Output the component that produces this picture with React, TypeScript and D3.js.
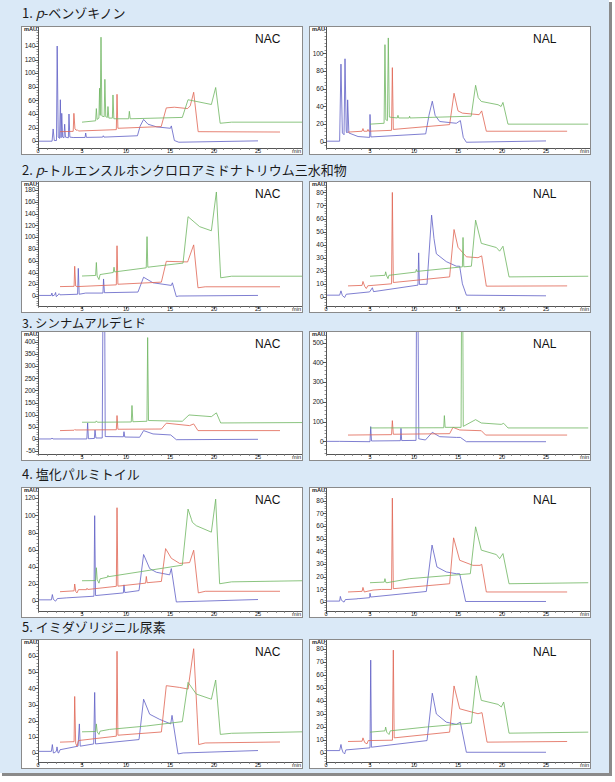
import React from 'react';
import * as d3 from 'd3';

type Pt = [number, number];

// ---------- text ----------
const titleNums = ['1. ', '2. ', '3. ', '4. ', '5. '];
const titleItalic = ['p', 'p', '', '', ''];
const titleNames = [
  '-ベンゾキノン',
  '-トルエンスルホンクロロアミドナトリウム三水和物',
  'シンナムアルデヒド',
  '塩化パルミトイル',
  'イミダゾリジニル尿素',
];
const panelLabels = ['NAC', 'NAL'];

// ---------- axes ----------
const xDomain: [number, number] = [0, 30];
const xTicks = [0, 5, 10, 15, 20, 25];
const yDomains: [number, number][] = [
  [-10, 168], [-7, 130],
  [-17, 194], [-7, 88],
  [-62, 441], [-64, 554],
  [-11.5, 132], [-7, 90],
  [-5.6, 70], [-7, 87],
];
const yTicks: number[][] = [
  [0, 20, 40, 60, 80, 100, 120, 140],
  [0, 20, 40, 60, 80, 100],
  [0, 20, 40, 60, 80, 100, 120, 140, 160, 180],
  [0, 10, 20, 30, 40, 50, 60, 70, 80],
  [-50, 0, 50, 100, 150, 200, 250, 300, 350, 400],
  [0, 100, 200, 300, 400, 500],
  [0, 20, 40, 60, 80, 100, 120],
  [0, 10, 20, 30, 40, 50, 60, 70, 80],
  [0, 10, 20, 30, 40, 50, 60],
  [0, 10, 20, 30, 40, 50, 60, 70, 80],
];
const showZeroX = [true, false, false, true, false, false, false, true, true, true];

// ---------- traces [min, mAU] ----------
// 1. p-benzoquinone NAC
const p1nacB: Pt[] = [[0,0],[1.6,0],[1.72,18],[1.85,1],[2.1,1],[2.18,140],[2.3,6],[2.45,4],[2.54,61],[2.62,5],[2.7,41],[2.8,6],[2.95,5],[3.03,25],[3.12,6],[3.45,5],[3.52,40],[3.62,6],[4,5.4],[5.35,5.5],[5.42,12],[5.5,5.6],[7.35,6],[7.42,8],[7.5,6],[11.3,8],[11.6,22],[12.0,32],[12.5,25],[13.5,21],[15.05,19],[15.15,22.5],[15.5,1],[16,-1.5],[25,0.5]];
const p1nacR: Pt[] = [[2.5,14],[4.0,14.5],[4.08,41],[4.2,18],[4.35,16],[4.45,17],[4.6,15],[8.9,17],[8.98,69],[9.08,19],[14.0,21.5],[14.58,49],[15.5,50],[17.0,48],[17.3,52],[17.69,72],[18.2,14],[27.5,13.5]];
const p1nacG: Pt[] = [[5,28],[6.55,30],[6.63,48],[6.72,32],[6.92,34],[7.0,78],[7.07,38],[7.16,153],[7.26,37],[7.52,36],[7.6,91],[7.7,36],[7.88,35],[7.95,51],[8.05,34],[8.45,34],[8.52,68],[8.62,33],[10.3,33],[10.38,44],[10.48,33],[16.4,35],[17.05,61],[19.7,54],[20.19,79],[20.7,26.4],[22,28],[30,28]];
// 1. p-benzoquinone NAL
const p1nalB: Pt[] = [[0,0.7],[1.55,0.7],[1.7,88],[1.86,10],[2.05,8],[2.16,94],[2.3,12],[2.4,10],[2.46,47.5],[2.6,10],[3.64,6],[4.96,5],[5.0,31],[5.1,5.5],[11.33,9],[11.7,30],[12.08,46],[12.4,30],[12.92,23],[14.81,21],[15.27,24],[15.6,5],[15.95,-0.5],[25,1]];
const p1nalR: Pt[] = [[2.5,11],[4.1,12],[4.2,15],[4.3,12],[4.7,12],[4.77,14],[4.85,12],[7.45,13],[7.54,84],[7.65,14],[14.05,19.5],[14.55,55],[15.0,35],[15.5,32.5],[17.4,30.7],[17.69,35],[18.22,12],[27.4,12]];
const p1nalG: Pt[] = [[5,20],[6.6,21],[6.7,110],[6.8,25],[6.98,24],[7.08,117.6],[7.2,28],[8.1,27],[8.18,30],[8.26,27],[9.45,27],[9.5,29],[9.55,27],[16.5,29],[17.0,64],[17.3,50],[17.65,45.7],[19.55,42],[19.9,40],[20.11,44.6],[20.68,20],[29.8,20]];
// 2. chloramine-T NAC
const p2nacB: Pt[] = [[0,1],[1.5,1],[1.58,5],[1.66,0],[1.9,2],[2.0,6],[2.08,-1],[2.3,2],[2.39,4],[2.5,2],[4.5,3],[4.58,47],[4.68,3],[5.42,5],[7.38,5],[7.45,29],[7.55,5.6],[11.36,6.7],[12.0,32],[13.07,22.5],[15.15,18],[15.27,22.5],[15.72,-1],[16,0],[25,1]];
const p2nacR: Pt[] = [[2.5,16],[4.1,16.5],[4.17,50.6],[4.28,17],[4.43,16],[8.9,19],[8.98,85.5],[9.08,20],[14.02,23.6],[14.58,59],[17.0,58],[17.69,87],[18.18,14],[19,15.7],[27.5,15.7]];
const p2nacG: Pt[] = [[5,34],[6.55,35],[6.63,57],[6.72,34],[6.93,28],[7.05,36.5],[8.55,40],[8.64,49],[8.72,41],[12.3,48],[12.39,101],[12.48,49],[16.48,56],[17.05,135],[18.37,118],[19.7,111],[20.27,177],[20.76,31],[22,33.7],[30,33.7]];
// 2. chloramine-T NAL
const p2nalB: Pt[] = [[0,1.3],[1.55,1.3],[1.7,4.6],[1.86,1],[2.12,-0.5],[2.3,2],[4.96,3.8],[5.27,7],[5.4,4],[10.45,9],[10.53,33.7],[10.62,9.5],[11.48,9.7],[12.0,62.6],[12.27,44.7],[12.54,33],[13.67,27],[14.81,23.5],[15.19,23.5],[15.5,10],[15.95,1.3],[25,0.8]];
const p2nalR: Pt[] = [[2.5,8.4],[4.1,8.8],[4.2,11.8],[4.4,8],[4.58,6.4],[4.75,8.5],[7.45,10],[7.54,80],[7.65,11],[14.05,15.3],[14.55,51.6],[15.0,38],[15.95,30.7],[17.27,30],[17.69,31.4],[18.22,8.2],[27.4,8.4]];
const p2nalG: Pt[] = [[5,15.8],[6.7,16.5],[6.78,19.2],[6.9,16],[7.05,14],[7.15,16.5],[10.2,19],[10.27,21],[10.35,19.5],[15.5,23],[15.57,45.5],[15.66,23],[16.52,23.5],[17.0,58.8],[17.65,41],[19.36,37.8],[19.73,35],[20.11,38.8],[20.8,15.3],[29.8,15.8]];
// 3. cinnamaldehyde NAC
const p3nacB: Pt[] = [[0,0],[1.5,0],[1.59,4],[1.7,0],[5.55,0],[5.64,66],[5.73,1],[6.4,2],[6.48,37],[6.58,4],[7.3,4],[7.4,700],[7.56,700],[7.64,10],[9.7,9],[9.77,30],[9.86,8],[11.55,7],[12.0,34.5],[13.07,20.7],[15.08,16.5],[15.72,-3],[25,-1.4]];
const p3nacR: Pt[] = [[2.5,34.5],[4.1,36],[4.17,38.6],[4.3,37],[8.9,38],[8.98,96.5],[9.08,40],[14.02,41],[14.58,65],[17.23,55],[17.69,62],[18.18,34.5],[27.5,34.5]];
const p3nacG: Pt[] = [[5,69],[6.55,69],[6.63,74.5],[6.75,69],[10.6,70],[10.68,138],[10.78,71],[12.38,73],[12.46,418],[12.56,76],[16.4,73],[17.16,99],[19.7,92],[20.27,107.6],[20.76,66],[30,67.6]];
// 3. cinnamaldehyde NAL
const p3nalB: Pt[] = [[0,0],[1.55,0],[5.0,-1.7],[5.08,74.6],[5.17,2],[8.45,3.4],[8.52,66],[8.6,4],[10.23,5],[10.3,900],[10.42,900],[10.55,12],[10.64,12],[11.3,7],[12.08,45.8],[12.92,23.7],[14.81,20],[15.27,20],[15.95,-1.7],[25,-1.7]];
const p3nalR: Pt[] = [[2.5,32],[7.45,34],[7.54,105],[7.65,36],[14.05,39],[14.43,71],[15.19,57.6],[17.65,54],[18.14,32],[27.4,32]];
const p3nalG: Pt[] = [[5,68],[13.38,69],[13.45,130.5],[13.54,71],[15.35,71],[15.42,900],[15.52,900],[15.6,76],[17.0,110],[17.65,93],[19.92,86],[20.19,91.5],[20.68,68],[29.8,68]];
// 4. palmitoyl chloride NAC
const p4nacB: Pt[] = [[0,1.5],[1.52,1.5],[1.63,7.7],[1.75,2],[2.0,0],[2.2,3],[3.22,3.8],[6.36,5.75],[6.44,99.7],[6.54,6.5],[9.7,9.6],[9.77,19],[9.86,10],[11.48,12.3],[12.0,54.4],[12.69,38],[13.45,33.7],[14.96,30.7],[15.15,38],[15.72,-1],[16,-0.8],[25,1.9]];
const p4nacR: Pt[] = [[2.5,11],[4.1,12],[4.17,20],[4.3,11],[4.43,9.6],[4.6,13.4],[5.5,13.4],[5.57,15],[5.65,13.6],[8.9,17.3],[8.98,109],[9.08,17.5],[12.23,21],[12.31,28.8],[12.4,21.5],[14.02,23],[14.5,61.3],[15.15,50],[16.1,44],[17.23,45],[17.69,59.4],[18.22,9.6],[19,11.5],[27.5,11.5]];
const p4nacG: Pt[] = [[5,23.8],[6.55,24],[6.63,39],[6.73,25],[6.93,21],[7.05,26],[7.9,28],[7.95,30],[8.0,28.5],[16.4,42],[17.05,107.4],[17.45,95],[17.54,92],[17.99,88],[19.7,80.5],[20.19,119],[20.64,20.3],[22,22.5],[30,23.8]];
// 4. palmitoyl chloride NAL
const p4nalB: Pt[] = [[0,0.8],[1.55,0.8],[1.63,4.5],[1.75,1.5],[2.05,0],[2.2,2],[3.6,2.6],[3.64,3.2],[3.7,2.7],[4.96,3.5],[5.0,7],[5.08,4],[11.4,8.4],[12.05,45],[12.61,27.7],[13.67,23.8],[14.81,22.4],[15.19,22.4],[15.87,0.5],[25,0.5]];
const p4nalR: Pt[] = [[2.5,8],[4.1,8.5],[4.2,11.6],[4.35,8],[5.34,9.5],[6.29,10],[7.45,10],[7.54,82],[7.65,10.6],[14.05,14.5],[14.5,50.7],[15.19,33],[16.7,29],[17.5,29],[17.69,29.8],[18.22,8],[27.4,8]];
const p4nalG: Pt[] = [[5,15.3],[6.62,15.8],[6.7,18.5],[6.8,15.5],[6.93,15.3],[9.5,18.5],[16.4,22.4],[17.0,59.4],[17.65,41],[19.36,37.5],[19.73,34.3],[20.11,38.3],[20.8,14.5],[29.8,15.3]];
// 5. imidazolidinyl urea NAC
const p5nacB: Pt[] = [[0,1],[1.52,1],[1.63,5.2],[1.75,0],[1.82,0],[2.08,1],[2.16,3.75],[2.28,0],[2.35,0],[2.5,2],[4.55,4.2],[4.7,18],[4.8,4.2],[6.33,5.6],[6.44,37.5],[6.54,5.6],[11.48,8.3],[12.0,33.3],[12.69,24],[13.83,20.8],[15.08,18],[15.23,23.3],[15.91,-0.6],[16.5,0],[25,1.5]];
const p5nacR: Pt[] = [[2.5,6.7],[4.1,7],[4.17,35],[4.28,6],[4.43,4.2],[4.6,7.7],[8.9,10.4],[8.98,63],[9.08,11],[14.02,13],[14.58,41.7],[16.1,40.6],[17.05,39.6],[17.69,64.6],[18.26,5.2],[19,6.2],[27.5,6.8]];
const p5nacG: Pt[] = [[5,13.1],[6.55,13.3],[6.63,18],[6.73,13],[6.93,11.5],[7.05,13.5],[8.14,14.6],[12.31,16.7],[16.4,19.4],[17.05,43.75],[17.99,36.5],[19.7,33.3],[20.19,45.2],[20.72,11.5],[22,12.2],[30,13.1]];
// 5. imidazolidinyl urea NAL
const p5nalB: Pt[] = [[0,1.8],[1.55,1.8],[1.7,6.5],[1.8,3],[1.93,0.5],[2.12,-0.8],[2.25,2.3],[5.0,3.9],[5.08,71.5],[5.16,4.4],[11.48,9.5],[12.08,46],[12.54,30],[13.67,23.7],[14.81,22],[15.27,23.7],[15.95,0.5],[25,0.5]];
const p5nalR: Pt[] = [[2.5,8.8],[4.1,9],[4.2,11.6],[4.4,8],[4.66,7],[4.8,9.5],[7.55,9.8],[7.65,79.2],[7.75,11.6],[14.05,16],[14.55,51.6],[15.19,34],[17.27,30.2],[17.73,31],[18.3,8.3],[27.4,8.8]];
const p5nalG: Pt[] = [[5,16],[6.7,17],[6.78,19.9],[6.9,16],[7.16,14.2],[7.3,17],[11.33,19.9],[16.52,23],[17.08,59.4],[17.65,40.5],[19.55,37.4],[19.92,35.4],[20.19,39.2],[20.8,15.2],[29.8,16]];

const panelTraces: Pt[][][] = [
  [p1nacB, p1nacR, p1nacG], [p1nalB, p1nalR, p1nalG],
  [p2nacB, p2nacR, p2nacG], [p2nalB, p2nalR, p2nalG],
  [p3nacB, p3nacR, p3nacG], [p3nalB, p3nalR, p3nalG],
  [p4nacB, p4nacR, p4nacG], [p4nalB, p4nalR, p4nalG],
  [p5nacB, p5nacR, p5nacG], [p5nalB, p5nalR, p5nalG],
];

// ---------- layout ----------
const W = 615, H = 782;
const rowTop = [27, 182, 332, 488, 640];
const rowAxis = [148, 306, 454, 611, 762];
const titleBase = [18, 175, 327.5, 479, 632];
const titleSize = [13, 13, 12.4, 13, 13];
const colX0 = [38, 326];
const traceColors = ['#6060c6', '#e06654', '#70b662'];
const FONT = "'Liberation Sans', Arial, sans-serif";
const JFONT = "'Noto Sans CJK JP', 'Noto Sans', sans-serif";

function Panel({ idx }: { idx: number }) {
  const row = Math.floor(idx / 2), col = idx % 2;
  const x0 = colX0[col];
  const top = rowTop[row], axis = rowAxis[row];
  const x = d3.scaleLinear().domain(xDomain).range([x0, x0 + 264]);
  const y = d3.scaleLinear().domain(yDomains[idx]).range([axis, top]);
  const line = d3.line<Pt>().x(d => x(d[0])).y(d => y(d[1]));
  const boxL = x0 - 17, boxR = x0 + 264;
  const clipId = `clip${idx}`;
  const yt = yTicks[idx];
  const step = yt[1] - yt[0];
  const minorY: number[] = [];
  const [d0, d1] = yDomains[idx];
  for (let v = Math.ceil(d0 / (step / 5)) * (step / 5); v <= d1; v += step / 5) minorY.push(v);
  const minorX = d3.range(0, 30, 1);
  return (
    <g>
      <rect x={boxL + 0.5} y={top - 0.5} width={boxR - boxL} height={axis + 7 - top} fill="#fff" stroke="#8a8a8a" strokeWidth={1} />
      <clipPath id={clipId}><rect x={x0} y={top} width={264} height={axis - top} /></clipPath>
      <g clipPath={`url(#${clipId})`} fill="none" strokeWidth={0.9} strokeLinejoin="round">
        {panelTraces[idx].map((tr, i) => (
          <path key={i} d={line(tr) || ''} stroke={traceColors[i]} strokeOpacity={0.9} />
        ))}
      </g>
      {/* axes */}
      <line x1={x0 + 0.5} x2={x0 + 0.5} y1={top} y2={axis} stroke="#555" />
      <line x1={x0} x2={boxR} y1={axis + 0.5} y2={axis + 0.5} stroke="#555" />
      {minorY.map((v, i) => (
        <line key={'my' + i} x1={x0 - 1.5} x2={x0} y1={Math.round(y(v)) + 0.5} y2={Math.round(y(v)) + 0.5} stroke="#777" strokeWidth={0.8} />
      ))}
      {yt.map(v => (
        <g key={'yt' + v}>
          <line x1={x0 - 3} x2={x0} y1={Math.round(y(v)) + 0.5} y2={Math.round(y(v)) + 0.5} stroke="#555" />
          <text x={x0 - 2.5} y={y(v) + 2.2} fontSize={6.5} textAnchor="end" fill="#222" fontFamily={FONT}>{v}</text>
        </g>
      ))}
      {minorX.map(v => (
        <line key={'mx' + v} x1={Math.round(x(v)) + 0.5} x2={Math.round(x(v)) + 0.5} y1={axis} y2={axis + 2} stroke="#777" strokeWidth={0.8} />
      ))}
      {xTicks.filter(v => v !== 0 || showZeroX[idx]).map(v => (
        <g key={'xt' + v}>
          <line x1={Math.round(x(v)) + 0.5} x2={Math.round(x(v)) + 0.5} y1={axis} y2={axis + 3} stroke="#555" />
          <text x={x(v)} y={axis + 5.4} fontSize={5.6} textAnchor="middle" fill="#222" fontFamily={FONT}>{v}</text>
        </g>
      ))}
      <text x={boxR - 1} y={axis + 5.4} fontSize={5.6} textAnchor="end" fill="#222" fontFamily={FONT}>min</text>
      <text x={x0 - 1} y={top + 4.4} fontSize={5.6} fontWeight="bold" textAnchor="end" fill="#222" fontFamily={FONT}>mAU</text>
      <text x={col === 0 ? boxL + 234 : boxL + 224} y={top + 15.7} fontSize={12} fill="#111" fontFamily={FONT}>{panelLabels[col]}</text>
    </g>
  );
}

export default function App() {
  return (
    <svg width={W} height={H} style={{ position: 'absolute', left: 0, top: 0, background: '#fff' }}>
      <rect x={0} y={0} width={W} height={H} fill="#fff" />
      <rect x={0} y={0} width={609} height={773} fill="#dae9f7" />
      <rect x={609} y={2} width={3} height={774} fill="#8a8a8a" />
      <rect x={2} y={773} width={610} height={3} fill="#8a8a8a" />
      {titleNums.map((n, r) => (
        <text key={r} x={22} y={titleBase[r]} fontSize={titleSize[r]} fill="#1a1a1a" fontFamily={JFONT}>
          {n}
          {titleItalic[r] ? <tspan fontStyle="italic">{titleItalic[r]}</tspan> : null}
          {titleNames[r]}
        </text>
      ))}
      {d3.range(10).map(i => <Panel key={i} idx={i} />)}
    </svg>
  );
}
